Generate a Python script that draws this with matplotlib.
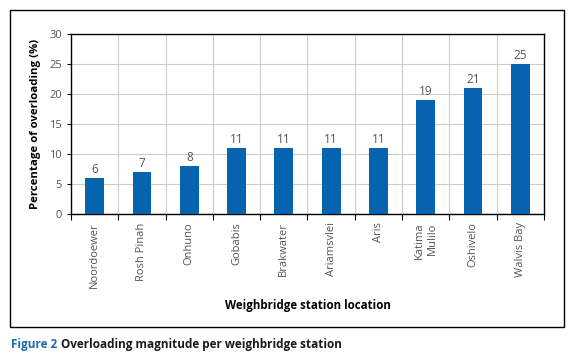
import matplotlib
matplotlib.use("Agg")
import matplotlib.pyplot as plt
from matplotlib.patches import Rectangle

stations = ['Noordoewer', 'Rosh Pinah', 'Onhuno', 'Gobabis', 'Brakwater',
            'Ariamsvlei', 'Aris', 'Katima\nMulilo', 'Oshivelo', 'Walvis Bay']
overloading = [6, 7, 8, 11, 11, 11, 11, 19, 21, 25]
y_ticks = [0, 5, 10, 15, 20, 25, 30]

plt.rcParams['font.family'] = ['Open Sans', 'DejaVu Sans']

fig = plt.figure(figsize=(5.76, 3.59), dpi=100)
ax = fig.add_axes([0.1233, 0.4039, 0.8211, 0.5014])

x = range(len(stations))
bars = ax.bar(x, overloading, width=0.4, color='#0563b0', zorder=3)
for xi, v in zip(x, overloading):
    ax.text(xi, v + 0.4, str(v), ha='center', va='bottom', fontsize=8.5, color='#555555')

ax.set_xlim(-0.5, len(stations) - 0.5)
ax.set_ylim(0, 30)
ax.set_yticks(y_ticks)
ax.tick_params(axis='y', labelsize=8, labelcolor='#555555', length=3, width=0.8)

# ticks sit on the category boundaries, labels in the middle
ax.set_xticks([i - 0.5 for i in range(len(stations) + 1)])
ax.set_xticklabels([])
ax.set_xticks(list(x), minor=True)
ax.set_xticklabels(stations, minor=True, rotation=90, ha='center', va='top',
                   multialignment='right', fontsize=8, color='#555555')
ax.tick_params(axis='x', which='major', length=4, width=0.8)
ax.tick_params(axis='x', which='minor', length=0, pad=6)

ax.grid(True, which='major', color='#cccccc', linewidth=0.8, zorder=0)
for s in ax.spines.values():
    s.set_linewidth(1.0)

ax.set_ylabel('Percentage of overloading (%)', fontsize=8.2, fontweight='bold', labelpad=6)
ax.set_xlabel('Weighbridge station location', fontsize=8.3, fontweight='bold', labelpad=8)

fig.patches.append(Rectangle((0.0182, 0.0891), 0.9608, 0.8844, transform=fig.transFigure,
                             fill=False, edgecolor='black', linewidth=1.0))

t = fig.text(0.019, 0.032, 'Figure 2', fontsize=8.5, fontweight='bold', color='#1a6bb5')
fig.canvas.draw()
bb = t.get_window_extent()
fig.text(bb.x1 / fig.bbox.width + 0.006, 0.032, 'Overloading magnitude per weighbridge station',
         fontsize=8.5, fontweight='bold', color='#1a1a1a')

fig.savefig('out.png', dpi=100)
